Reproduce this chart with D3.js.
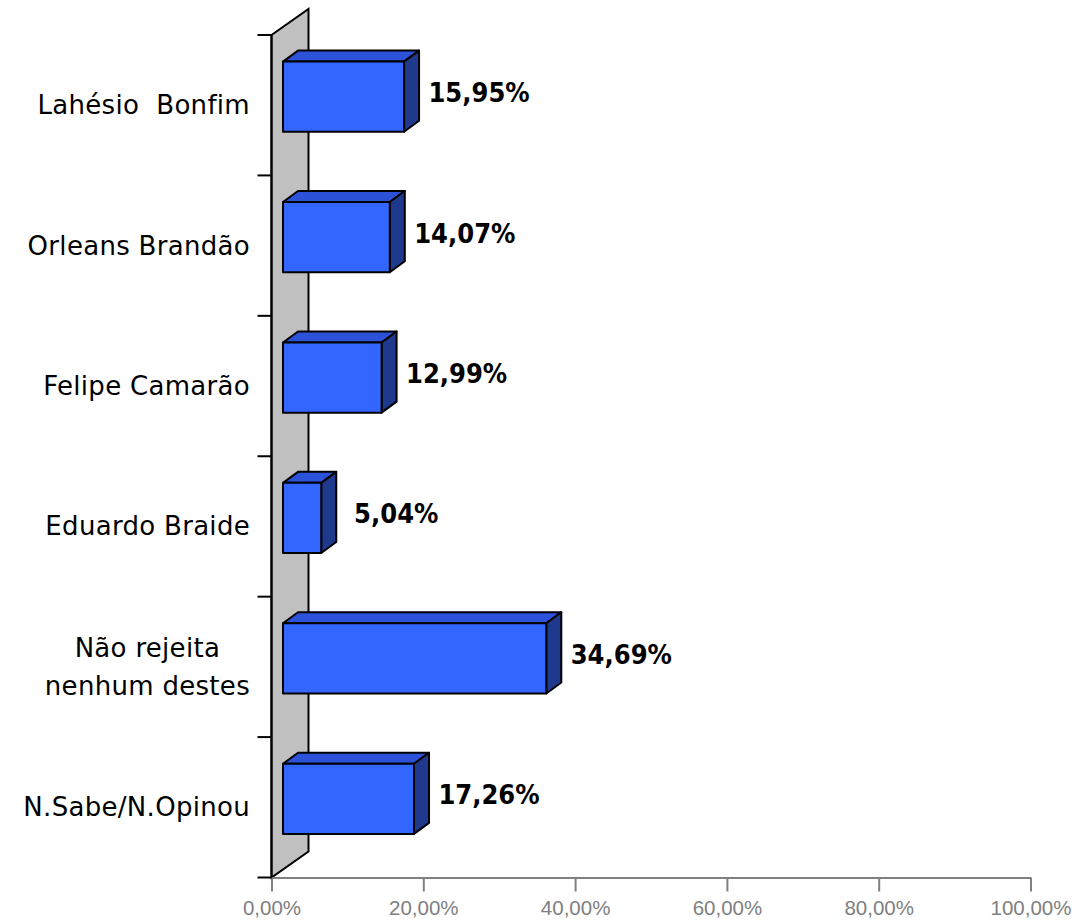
<!DOCTYPE html>
<html><head><meta charset="utf-8">
<script src="https://d3js.org/d3.v7.min.js"></script>
<style>body{margin:0;background:#fff}</style>
</head><body>
<svg id="c" width="1074" height="923"></svg>
<script>
const categories = [["Lahésio  Bonfim"], ["Orleans Brandão"], ["Felipe Camarão"], ["Eduardo Braide"], ["Não rejeita", "nenhum destes"], ["N.Sabe/N.Opinou"]];
const values = [15.95, 14.07, 12.99, 5.04, 34.69, 17.26];
const valueLabels = ["15,95%", "14,07%", "12,99%", "5,04%", "34,69%", "17,26%"];
const ticks = [0, 20, 40, 60, 80, 100];
const tickLabels = ["0,00%", "20,00%", "40,00%", "60,00%", "80,00%", "100,00%"];

const svg = d3.select("#c");
const x = d3.scaleLinear().domain([0, 100]).range([271.5, 1030.5]);
const y = d3.scaleBand().domain(d3.range(values.length)).range([35, 877.5]).paddingInner(0).paddingOuter(0);
const depth = {dx: 37, dy: -26};
const y0 = 877.5;

// wall
svg.append("polygon")
  .attr("points", [[x(0), y.range()[0]], [x(0) + depth.dx, y.range()[0] + depth.dy], [x(0) + depth.dx, y0 + depth.dy], [x(0), y0]].map(p => p.join(",")).join(" "))
  .attr("fill", "#c0c0c0").attr("stroke", "#000").attr("stroke-width", 2).attr("stroke-linejoin", "miter");

// x axis
const xAxis = d3.axisBottom(x).tickValues(ticks).tickFormat((d, i) => tickLabels[i]).tickSize(14).tickPadding(9).tickSizeOuter(0);
const gx = svg.append("g").attr("transform", `translate(0,${y0})`).call(xAxis);
gx.select(".domain").attr("stroke", "#808080").attr("stroke-width", 2);
gx.selectAll(".tick line").attr("stroke", "#808080").attr("stroke-width", 2);
gx.selectAll(".tick text").attr("fill", "#808080").style("font-family", "'Liberation Sans', Arial, sans-serif").style("font-size", "20.5px");

// y axis ticks (left)
const yt = d3.range(values.length + 1).map(i => i < values.length ? y(i) : y0);
svg.append("line").attr("x1", x(0)).attr("x2", x(0)).attr("y1", y.range()[0]).attr("y2", y0).attr("stroke", "#000").attr("stroke-width", 2);
svg.selectAll("line.yt").data(yt).enter().append("line").attr("class", "yt")
  .attr("x1", x(0) - 14).attr("x2", x(0)).attr("y1", d => d).attr("y2", d => d)
  .attr("stroke", "#000").attr("stroke-width", 2);

// bars
const fOff = {dx: 11.5, dy: -8.5};
const bDepth = {dx: 15, dy: -11};
const bh = y.bandwidth() * 0.5;
values.forEach((v, i) => {
  const xl = x(0) + fOff.dx, xr = x(v) + fOff.dx;
  const yt0 = y(i) + y.bandwidth() / 2 - bh / 2 + fOff.dy, yb = yt0 + bh;
  const g = svg.append("g").attr("stroke", "#000").attr("stroke-width", 2).attr("stroke-linejoin", "round");
  g.append("polygon").attr("points", [[xl, yt0], [xl + bDepth.dx, yt0 + bDepth.dy], [xr + bDepth.dx, yt0 + bDepth.dy], [xr, yt0]].map(p => p.join(",")).join(" ")).attr("fill", "#2b52d9");
  g.append("polygon").attr("points", [[xr, yt0], [xr + bDepth.dx, yt0 + bDepth.dy], [xr + bDepth.dx, yb + bDepth.dy], [xr, yb]].map(p => p.join(",")).join(" ")).attr("fill", "#1f3a8c");
  g.append("rect").attr("x", xl).attr("y", yt0).attr("width", xr - xl).attr("height", bh).attr("fill", "#3366ff");
  svg.append("text").attr("x", xr + 75).attr("y", (yt0 + yb) / 2 - 4)
    .attr("text-anchor", "middle").attr("dominant-baseline", "central")
    .style("font-family", "'DejaVu Sans Condensed', 'DejaVu Sans', sans-serif").style("font-weight", "bold").style("font-size", "27px")
    .attr("fill", "#000").text(valueLabels[i]);
});

// category labels
categories.forEach((lines, i) => {
  const cy = y(i) + y.bandwidth() / 2;
  const lh = 38;
  const t = svg.append("text").style("font-family", "'DejaVu Sans', sans-serif").style("font-size", "26px").style("letter-spacing", "0.3px").style("white-space", "pre").attr("fill", "#000");
  const spans = lines.map((l, k) => t.append("tspan").attr("y", cy + (k - (lines.length - 1) / 2) * lh).attr("dominant-baseline", "central").text(l));
  const widths = spans.map(s => s.node().getComputedTextLength());
  const maxW = d3.max(widths);
  const right = 250;
  spans.forEach((s, k) => s.attr("x", right - maxW / 2).attr("text-anchor", "middle"));
});
</script>
</body></html>
